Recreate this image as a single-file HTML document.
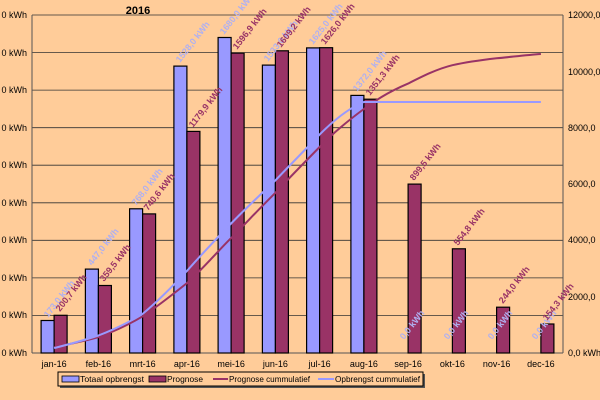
<!DOCTYPE html>
<html><head><meta charset="utf-8"><style>body{margin:0;background:#FFCC99}svg{display:block;font-family:"Liberation Sans",sans-serif}</style></head><body>
<svg width="600" height="400" viewBox="0 0 600 400">
<rect width="600" height="400" fill="#FFCC99"/>
<text x="138" y="14" font-size="11" font-weight="bold" text-anchor="middle">2016</text>
<g stroke="#333" stroke-width="0.8">
<line x1="32" y1="15" x2="563" y2="15"/><line x1="32" y1="52.6" x2="563" y2="52.6"/><line x1="32" y1="90.1" x2="563" y2="90.1"/><line x1="32" y1="127.7" x2="563" y2="127.7"/><line x1="32" y1="165.2" x2="563" y2="165.2"/><line x1="32" y1="202.8" x2="563" y2="202.8"/><line x1="32" y1="240.3" x2="563" y2="240.3"/><line x1="32" y1="277.9" x2="563" y2="277.9"/><line x1="32" y1="315.4" x2="563" y2="315.4"/>
</g>
<g stroke="#555" stroke-width="1"><line x1="32" y1="15" x2="32" y2="353"/><line x1="563" y1="15" x2="563" y2="353"/><line x1="32" y1="353" x2="563" y2="353"/></g>
<g font-size="9" fill="#000" text-anchor="end">
<text x="27" y="18">0 kWh</text><text x="27" y="56">0 kWh</text><text x="27" y="93">0 kWh</text><text x="27" y="131">0 kWh</text><text x="27" y="168">0 kWh</text><text x="27" y="206">0 kWh</text><text x="27" y="243">0 kWh</text><text x="27" y="281">0 kWh</text><text x="27" y="318">0 kWh</text><text x="27" y="356">0 kWh</text>
</g>
<g font-size="9" fill="#000">
<text x="568" y="18">12000,0</text><text x="568" y="75">10000,0</text><text x="568" y="131">8000,0</text><text x="568" y="187">6000,0</text><text x="568" y="243">4000,0</text><text x="568" y="300">2000,0</text><text x="568" y="356">0,0 kWh</text>
</g>
<g stroke="#000" stroke-width="1.2">
<rect x="41.1" y="320.5" width="13" height="32.5" fill="#9999FF"/><rect x="54.1" y="315.3" width="13" height="37.7" fill="#993366"/>
<rect x="85.4" y="269.1" width="13" height="83.9" fill="#9999FF"/><rect x="98.4" y="285.5" width="13" height="67.5" fill="#993366"/>
<rect x="129.6" y="208.8" width="13" height="144.2" fill="#9999FF"/><rect x="142.6" y="213.9" width="13" height="139.1" fill="#993366"/>
<rect x="173.9" y="66.1" width="13" height="286.9" fill="#9999FF"/><rect x="186.9" y="131.4" width="13" height="221.6" fill="#993366"/>
<rect x="218.1" y="37.5" width="13" height="315.5" fill="#9999FF"/><rect x="231.1" y="53.1" width="13" height="299.9" fill="#993366"/>
<rect x="262.4" y="65.1" width="13" height="287.9" fill="#9999FF"/><rect x="275.4" y="50.8" width="13" height="302.2" fill="#993366"/>
<rect x="306.6" y="47.9" width="13" height="305.1" fill="#9999FF"/><rect x="319.6" y="47.7" width="13" height="305.3" fill="#993366"/>
<rect x="350.9" y="95.4" width="13" height="257.6" fill="#9999FF"/><rect x="363.9" y="99.2" width="13" height="253.8" fill="#993366"/>
<rect x="408.1" y="184.1" width="13" height="168.9" fill="#993366"/>
<rect x="452.4" y="248.8" width="13" height="104.2" fill="#993366"/>
<rect x="496.6" y="307.2" width="13" height="45.8" fill="#993366"/>
<rect x="540.9" y="324" width="13" height="29" fill="#993366"/>
</g>
<path fill="none" stroke="#993366" stroke-width="2" d="M54.1,347.3 C70,344 85,341 98.4,337.2 C115,331 128,325 142.6,316.4 C158,306 172,295 186.9,283.1 C202,270 216,253 231.1,238.1 C246,223 260,208 275.4,192.8 C290,177 305,162 319.6,147 C334,132 349,120 363.9,109 C378,98 393,90 408.1,83.6 C423,76 437,69 452.4,65.2 C467,62 482,60 496.6,58.3 C511,57 526,55 540.9,54"/>
<path fill="none" stroke="#9999FF" stroke-width="2" d="M54.1,348.1 C70,344 85,340 98.4,335.5 C115,329 128,323 142.6,313.9 C158,301 172,287 186.9,270.9 C202,254 216,239 231.1,223.5 C246,208 260,195 275.4,180.4 C290,165 305,150 319.6,134.6 C334,120 349,108 363.9,102 L540.9,102"/>
<g font-size="9" font-weight="bold">
<g fill="#B0B0F0">
<text transform="translate(48,318) rotate(-52)">173,0 kWh</text>
<text transform="translate(92,266) rotate(-52)">447,0 kWh</text>
<text transform="translate(136,206) rotate(-52)">768,0 kWh</text>
<text transform="translate(180,63) rotate(-52)">1528,0 kWh</text>
<text transform="translate(224,35) rotate(-52)">1680,0 kWh</text>
<text transform="translate(268,62) rotate(-52)">1533,0 kWh</text>
<text transform="translate(313,45) rotate(-52)">1625,0 kWh</text>
<text transform="translate(357,92) rotate(-52)">1372,0 kWh</text>
<text transform="translate(404,340) rotate(-52)">0,0 kWh</text>
<text transform="translate(448,340) rotate(-52)">0,0 kWh</text>
<text transform="translate(492,340) rotate(-52)">0,0 kWh</text>
<text transform="translate(536,340) rotate(-52)">0,0 kWh</text>
</g>
<g fill="#993366">
<text transform="translate(60,312) rotate(-52)">200,7 kWh</text>
<text transform="translate(104,282) rotate(-52)">359,5 kWh</text>
<text transform="translate(148,211) rotate(-52)">740,6 kWh</text>
<text transform="translate(193,128) rotate(-52)">1179,9 kWh</text>
<text transform="translate(237,50) rotate(-52)">1596,9 kWh</text>
<text transform="translate(281,48) rotate(-52)">1609,2 kWh</text>
<text transform="translate(325,45) rotate(-52)">1626,0 kWh</text>
<text transform="translate(370,96) rotate(-52)">1351,3 kWh</text>
<text transform="translate(414,181) rotate(-52)">899,5 kWh</text>
<text transform="translate(458,246) rotate(-52)">554,8 kWh</text>
<text transform="translate(503,304) rotate(-52)">244,0 kWh</text>
<text transform="translate(547,321) rotate(-52)">154,3 kWh</text>
</g>
</g>
<g font-size="9" text-anchor="middle">
<text x="54.1" y="367">jan-16</text><text x="98.4" y="367">feb-16</text><text x="142.6" y="367">mrt-16</text><text x="186.9" y="367">apr-16</text><text x="231.1" y="367">mei-16</text><text x="275.4" y="367">jun-16</text><text x="319.6" y="367">jul-16</text><text x="363.9" y="367">aug-16</text><text x="408.1" y="367">sep-16</text><text x="452.4" y="367">okt-16</text><text x="496.6" y="367">nov-16</text><text x="540.9" y="367">dec-16</text>
</g>
<rect x="60" y="374" width="365" height="14" fill="#555"/>
<rect x="58" y="372" width="365" height="14" fill="#FFCC99" stroke="#000" stroke-width="1"/>
<g font-size="8.5">
<rect x="62" y="376" width="17" height="6" fill="#9999FF" stroke="#000" stroke-width="0.8"/><text x="80" y="382" textLength="64" lengthAdjust="spacingAndGlyphs">Totaal opbrengst</text>
<rect x="149" y="376" width="17" height="6" fill="#993366" stroke="#000" stroke-width="0.8"/><text x="167" y="382" textLength="36" lengthAdjust="spacingAndGlyphs">Prognose</text>
<line x1="213" y1="379" x2="228" y2="379" stroke="#993366" stroke-width="2"/><text x="229" y="382" textLength="81" lengthAdjust="spacingAndGlyphs">Prognose cummulatief</text>
<line x1="318" y1="379" x2="334" y2="379" stroke="#9999FF" stroke-width="2"/><text x="335" y="382" textLength="85" lengthAdjust="spacingAndGlyphs">Opbrengst cummulatief</text>
</g>
</svg>
</body></html>
